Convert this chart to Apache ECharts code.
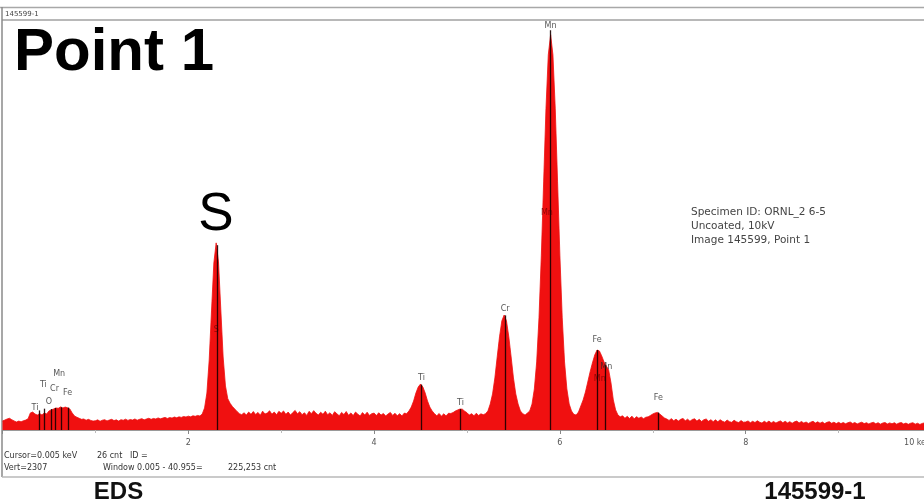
<!DOCTYPE html>
<html>
<head>
<meta charset="utf-8">
<script src="https://cdn.jsdelivr.net/npm/echarts@6/dist/echarts.min.js"></script>
<style>
html,body{margin:0;padding:0;background:#fff;}
#chart{width:924px;height:504px;}
</style>
</head>
<body>
<div id="chart"></div>
<script>
// EDS spectrum, channel width 0.025 keV starting at 0 keV; counts
const channelStartKeV = 0;
const channelWidthKeV = 0.025;

const counts0to1 = [
  51, 56, 62, 66, 58, 51, 45, 50, 46, 52,
  56, 63, 96, 101, 90, 84, 92, 85, 96, 90,
  107, 113, 118, 124, 122, 130, 124, 129, 125, 118,
  96, 79, 72, 66, 60, 62, 55, 60, 54, 50
];
const counts1to2 = [
  52, 57, 49, 55, 58, 51, 56, 60, 53, 57,
  50, 58, 55, 61, 54, 59, 56, 62, 55, 60,
  64, 57, 62, 66, 60, 65, 62, 68, 63, 67,
  71, 65, 70, 67, 73, 69, 74, 71, 76, 73
];
const counts2to3 = [
  78, 74, 80, 77, 82, 79, 90, 124, 208, 394,
  670, 940, 1053, 946, 676, 411, 248, 176, 150, 132,
  118, 104, 92, 86, 97, 84, 101, 88, 104, 87,
  99, 83, 106, 90, 95, 108, 89, 101, 86, 105
];
const counts3to4 = [
  94, 107, 88, 101, 84, 98, 110, 91, 103, 86,
  97, 82, 105, 92, 109, 94, 84, 100, 88, 106,
  86, 97, 82, 103, 91, 80, 99, 87, 104, 83,
  96, 81, 101, 89, 79, 98, 84, 100, 82, 92
];
const counts4to5 = [
  95, 81, 97, 84, 93, 79, 90, 99, 82, 94,
  80, 92, 79, 95, 92, 107, 129, 163, 208, 242,
  259, 242, 208, 163, 129, 107, 92, 80, 93, 78,
  91, 79, 94, 93, 98, 107, 113, 118, 117, 106
];
const counts5to6 = [
  97, 84, 92, 80, 94, 82, 91, 86, 92, 107,
  146, 203, 293, 411, 524, 614, 647, 614, 524, 411,
  293, 203, 146, 107, 92, 84, 95, 107, 146, 231,
  383, 631, 980, 1396, 1807, 2111, 2224, 2111, 1807, 1396
];
const counts6to7 = [
  980, 631, 383, 231, 146, 107, 88, 84, 101, 135,
  169, 214, 270, 327, 377, 422, 450, 445, 417, 383,
  360, 338, 265, 169, 113, 84, 74, 80, 66, 77,
  65, 78, 63, 75, 66, 73, 64, 72, 74, 82
];
const counts7to8 = [
  90, 96, 99, 90, 79, 68, 62, 54, 64, 52,
  61, 50, 60, 65, 52, 61, 49, 59, 63, 50,
  60, 48, 58, 62, 49, 58, 47, 57, 46, 58,
  49, 44, 56, 47, 43, 55, 46, 42, 53, 44
];
const counts8to9 = [
  45, 51, 41, 49, 42, 52, 44, 39, 49, 41,
  50, 40, 48, 39, 46, 51, 41, 49, 40, 47,
  38, 46, 50, 40, 48, 39, 45, 37, 44, 49,
  39, 46, 38, 45, 36, 43, 47, 38, 44, 36
];
const counts9to10 = [
  43, 36, 42, 35, 41, 45, 37, 42, 34, 40,
  44, 36, 41, 34, 40, 43, 35, 41, 33, 39,
  42, 34, 40, 35, 41, 33, 39, 42, 34, 39,
  32, 38, 41, 33, 38, 31, 37, 40, 32, 37,
  34
];

// characteristic line markers (keV) and the height they are drawn to (counts)
const markerEnergy = [0.395, 0.452, 0.525, 0.573, 0.637, 0.705, 2.307, 4.510, 4.931, 5.414, 5.898, 6.403, 6.490, 7.057];
const markerTop    = [110, 120, 118, 124, 128, 126, 1040, 255, 118, 645, 2250, 450, 365, 98];

// element labels
const labelText   = ['Ti', 'Ti', 'O', 'Cr', 'Mn', 'Fe', 'Ti', 'Ti', 'Cr', 'Mn', 'Fe', 'Mn', 'Fe'];
const labelEnergy = [0.35, 0.44, 0.50, 0.56, 0.61, 0.70, 4.51, 4.93, 5.41, 5.90, 6.40, 6.50, 7.06];
const labelCounts = [124, 253, 158, 231, 315, 208, 293, 152, 681, 2273, 506, 354, 180];

// faint labels inside peaks
const innerText   = ['S', 'Mn', 'Mn'];
const innerEnergy = [2.30, 5.86, 6.43];
const innerCounts = [563, 1221, 290];

const tickStepKeV = 2;
const axisMaxKeV = 10;
const vertCounts = 2307;

const counts = [].concat(counts0to1, counts1to2, counts2to3, counts3to4, counts4to5,
                         counts5to6, counts6to7, counts7to8, counts8to9, counts9to10);
const spectrum = counts.map((c, i) => [channelStartKeV + i * channelWidthKeV, c]);

const markLines = markerEnergy.map((e, i) => [{coord: [e, 0]}, {coord: [e, markerTop[i]]}]);
const labelData = labelText.map((t, i) => ({value: [labelEnergy[i], labelCounts[i]], name: t}));
const innerData = innerText.map((t, i) => ({value: [innerEnergy[i], innerCounts[i]], name: t}));

const chart = echarts.init(document.getElementById('chart'), null, {renderer: 'canvas'});
const smallFont = '"DejaVu Sans", sans-serif';

chart.setOption({
  animation: false,
  backgroundColor: '#ffffff',
  grid: {left: 2.5, top: 20, width: 929, height: 410, containLabel: false, outerBoundsMode: 'none'},
  xAxis: {
    type: 'value', min: 0, max: axisMaxKeV, interval: tickStepKeV,
    axisLine: {show: true, lineStyle: {color: '#9a9a9a', width: 1}},
    axisTick: {show: true, length: 4, lineStyle: {color: '#888'}},
    minorTick: {show: true, splitNumber: 2, length: 3, lineStyle: {color: '#bbb'}},
    splitLine: {show: false},
    axisLabel: {
      show: true, margin: 9, fontSize: 8, color: '#555', fontFamily: smallFont,
      alignMaxLabel: 'right', hideOverlap: false,
      formatter: v => v === 0 ? '' : (v === axisMaxKeV ? v + ' keV' : String(v))
    }
  },
  yAxis: {type: 'value', min: 0, max: vertCounts, show: false},
  series: [
    {
      type: 'line', data: spectrum, showSymbol: false, symbol: 'none', sampling: 'none',
      lineStyle: {color: '#ee1010', width: 0.8},
      areaStyle: {color: '#f01010', opacity: 1},
      silent: true, z: 2
    },
    {
      type: 'scatter', data: labelData, symbolSize: 0, silent: true, z: 5,
      label: {show: true, position: 'inside', formatter: p => p.name, fontSize: 8, color: '#2a2a2a', fontFamily: smallFont},
      markLine: {
        silent: true, symbol: 'none', animation: false,
        lineStyle: {color: '#1a0000', width: 1.3, type: 'solid', opacity: 0.9},
        label: {show: false}, emphasis: {disabled: true},
        data: markLines
      }
    },
    {
      type: 'scatter', data: innerData, symbolSize: 0, silent: true, z: 4,
      label: {show: true, position: 'inside', formatter: p => p.name, fontSize: 8, color: '#7a0000', fontFamily: smallFont}
    }
  ],
  graphic: [
    {type: 'line', shape: {x1: 0, y1: 7.5, x2: 924, y2: 7.5}, style: {stroke: '#a8a8a8', lineWidth: 1.5}},
    {type: 'line', shape: {x1: 2, y1: 20, x2: 924, y2: 20}, style: {stroke: '#a0a0a0', lineWidth: 1.5}},
    {type: 'line', shape: {x1: 2, y1: 7, x2: 2, y2: 477}, style: {stroke: '#8a8a8a', lineWidth: 1.5}},
    {type: 'line', shape: {x1: 2, y1: 477, x2: 924, y2: 477}, style: {stroke: '#b8b8b8', lineWidth: 1.5}},
    {type: 'text', x: 5, y: 14, style: {text: '145599-1', font: '7px ' + smallFont, fill: '#444', verticalAlign: 'middle'}},
    {type: 'text', x: 14, y: 53, style: {text: 'Point 1', font: 'bold 60px "Liberation Sans", Arial, sans-serif', fill: '#000', verticalAlign: 'middle'}},
    {type: 'text', x: 216, y: 215, style: {text: 'S', font: '53px "Liberation Sans", Arial, sans-serif', fill: '#000', align: 'center', verticalAlign: 'middle'}},
    {type: 'text', x: 691, y: 212, style: {text: 'Specimen ID: ORNL_2 6-5', font: '10.5px ' + smallFont, fill: '#444', verticalAlign: 'middle'}},
    {type: 'text', x: 691, y: 226, style: {text: 'Uncoated, 10kV', font: '10.5px ' + smallFont, fill: '#444', verticalAlign: 'middle'}},
    {type: 'text', x: 691, y: 240, style: {text: 'Image 145599, Point 1', font: '10.5px ' + smallFont, fill: '#444', verticalAlign: 'middle'}},
    {type: 'text', x: 4, y: 456, style: {text: 'Cursor=0.005 keV', font: '8px ' + smallFont, fill: '#333', verticalAlign: 'middle'}},
    {type: 'text', x: 97, y: 456, style: {text: '26 cnt   ID =', font: '8px ' + smallFont, fill: '#333', verticalAlign: 'middle'}},
    {type: 'text', x: 4, y: 468, style: {text: 'Vert=2307', font: '8px ' + smallFont, fill: '#333', verticalAlign: 'middle'}},
    {type: 'text', x: 103, y: 468, style: {text: 'Window 0.005 - 40.955=', font: '8px ' + smallFont, fill: '#333', verticalAlign: 'middle'}},
    {type: 'text', x: 228, y: 468, style: {text: '225,253 cnt', font: '8px ' + smallFont, fill: '#333', verticalAlign: 'middle'}},
    {type: 'text', x: 118.5, y: 492, style: {text: 'EDS', font: 'bold 24px "Liberation Sans", Arial, sans-serif', fill: '#111', align: 'center', verticalAlign: 'middle'}},
    {type: 'text', x: 815, y: 492, style: {text: '145599-1', font: 'bold 24px "Liberation Sans", Arial, sans-serif', fill: '#111', align: 'center', verticalAlign: 'middle'}}
  ]
});
</script>
</body>
</html>
